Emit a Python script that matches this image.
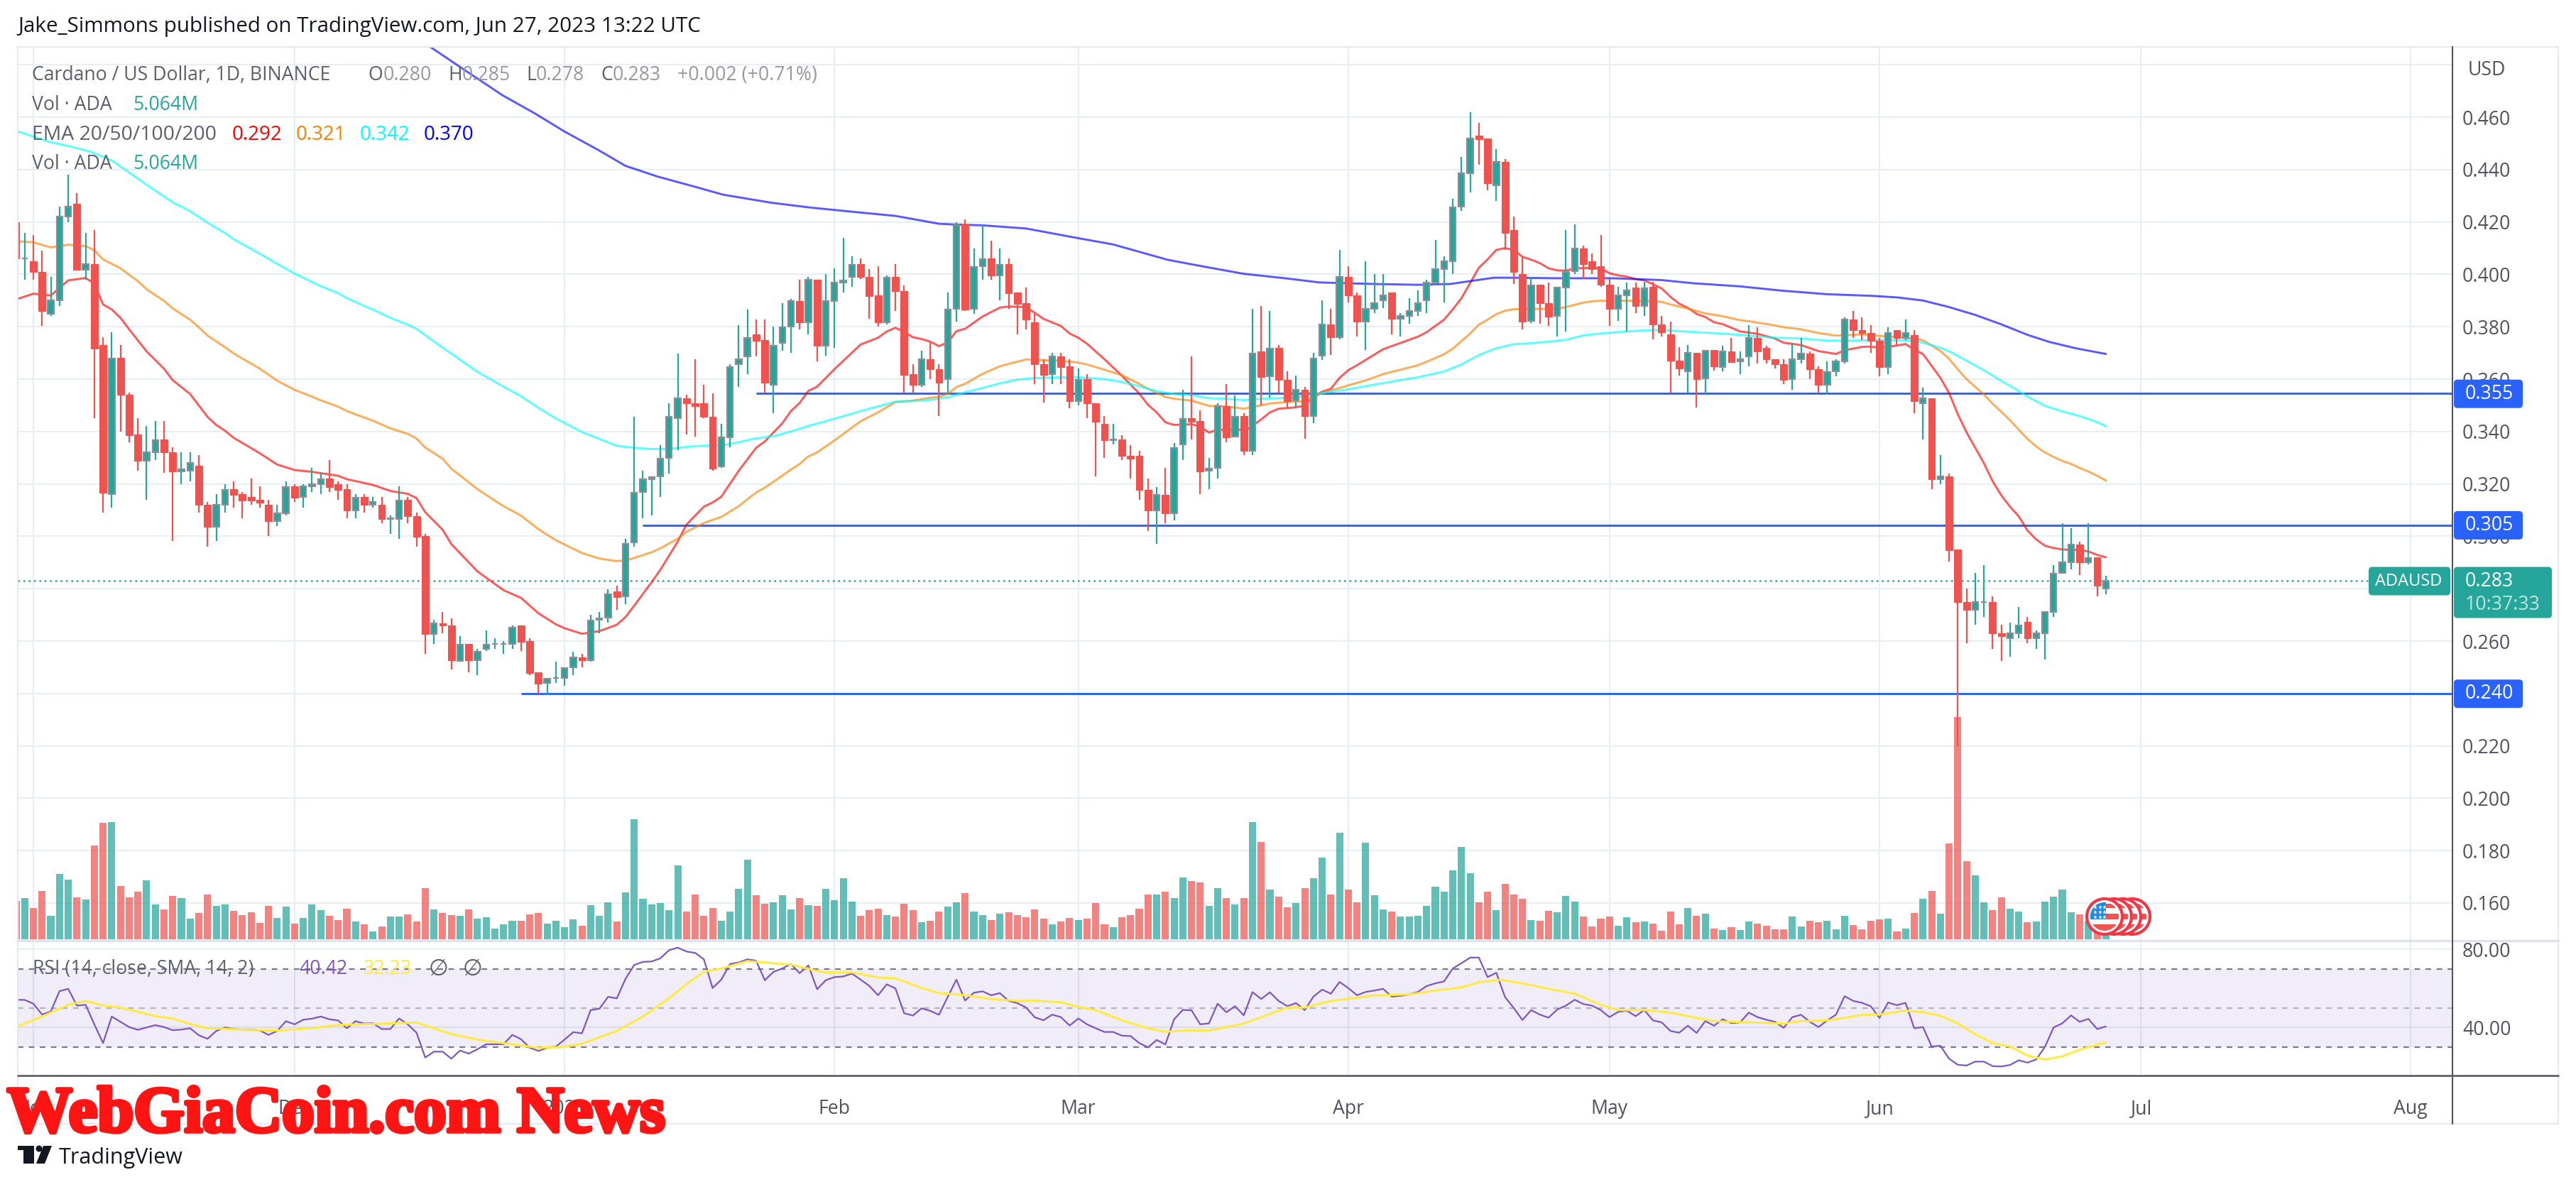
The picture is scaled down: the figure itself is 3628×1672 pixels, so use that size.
import numpy as np, pandas as pd, seaborn as sns
import matplotlib
matplotlib.use("Agg")
import matplotlib.pyplot as plt
from matplotlib.patches import FancyBboxPatch, Circle, Rectangle, Polygon
import matplotlib.patheffects as pe

sns.set_theme(style="white")
plt.rcParams['font.family'] = ['Open Sans', 'DejaVu Sans']

W, H = 3628, 1672
first_day = -2          # Oct 30 2022; day 0 = Nov 1 2022

open_ = [.420,.406,.405,.401,.385,.3901,.4221,.427,.4018,.404,
 .373,.316,.368,.354,.3388,.3289,.332,.337,.332,.3247,
 .325,.3269,.3119,.3037,.312,.318,.316,.315,.3139,.312,
 .3059,.3089,.319,.3149,.319,.3198,.322,.3199,.318,.31,
 .315,.312,.312,.3067,.3067,.3139,.3078,.30,.2627,.2669,
 .2659,.2524,.2589,.2527,.2569,.2588,.2588,.259,.2659,.26,
 .2481,.2439,.2459,.2459,.2501,.2538,.2527,.2681,.269,.2789,
 .277,.2978,.3169,.3219,.3228,.3298,.345,.3528,.3509,.3509,
 .3457,.3268,.3379,.3658,.3688,.377,.3748,.3579,.3739,.38,
 .3897,.3817,.398,.3727,.3899,.3968,.3989,.404,.3989,.392,
 .3818,.3989,.3937,.3618,.3579,.3677,.3639,.3599,.3867,.419,
 .3868,.403,.406,.3997,.4038,.393,.3889,.3818,.3658,.3618,
 .3688,.3648,.3516,.36,.3509,.3428,.3367,.3369,.3308,.3308,
 .3178,.31,.3159,.3089,.335,.345,.3439,.325,.3261,.3498,
 .3381,.3458,.3327,.3707,.361,.3718,.3598,.352,.356,.346,
 .369,.381,.3759,.399,.392,.382,.3869,.39,.3931,.383,
 .384,.3861,.3901,.3968,.402,.405,.4259,.4387,.4529,.4518,
 .434,.4429,.417,.40,.3821,.3961,.3891,.384,.395,.4011,
 .4098,.4049,.4031,.396,.3869,.3921,.395,.388,.3951,.381,
 .3771,.3671,.3631,.3701,.3602,.371,.3647,.3707,.3668,.3688,
 .3758,.3718,.3677,.3658,.36,.3677,.3698,.3639,.3579,.3629,
 .3668,.3828,.3787,.3776,.3747,.3647,.3787,.3758,.3768,.3508,
 .3528,.3219,.3228,.295,.2749,.272,.2749,.275,.2631,.2612,
 .263,.2672,.2612,.263,.2712,.286,.2901,.2969,.29,.2919,
 .280]
high = [.420,.4159,.415,.4091,.399,.4259,.4381,.4311,.4159,.417,
 .3759,.3778,.373,.3548,.3451,.342,.3441,.3441,.334,.332,
 .332,.3309,.3131,.316,.32,.3211,.317,.322,.319,.3139,
 .312,.3209,.32,.32,.3261,.3241,.3291,.3209,.32,.316,
 .316,.315,.315,.3079,.319,.315,.309,.3009,.268,.271,
 .2688,.262,.2589,.2569,.264,.261,.26,.2659,.2659,.261,
 .2481,.2457,.2521,.2497,.2559,.255,.27,.2711,.2799,.2811,
 .2989,.3457,.325,.3227,.3349,.3509,.3698,.354,.3677,.3579,
 .3547,.3429,.3658,.3806,.3866,.3828,.3828,.38,.3889,.3907,
 .3979,.399,.398,.40,.4023,.4138,.4069,.406,.402,.4031,
 .3997,.4038,.3959,.3658,.3708,.374,.3658,.393,.42,.421,
 .4099,.419,.4129,.4099,.4061,.393,.395,.3848,.3676,.3699,
 .3699,.3676,.364,.3618,.3509,.3458,.3428,.3387,.3349,.3327,
 .322,.3189,.3261,.3357,.3559,.3688,.348,.3298,.3509,.358,
 .3539,.3469,.3868,.3878,.3859,.3729,.3629,.3613,.3571,.3701,
 .3902,.3869,.4092,.4032,.3931,.4051,.40,.40,.3931,.3851,
 .3909,.394,.398,.413,.4069,.4289,.4447,.4619,.4579,.4518,
 .4477,.4441,.422,.4067,.399,.3961,.3969,.395,.417,.4191,
 .4109,.408,.4151,.3981,.3951,.3969,.3969,.397,.397,.384,
 .382,.3721,.373,.3701,.3709,.371,.3728,.3758,.3707,.3806,
 .3798,.3728,.3677,.3677,.3739,.3757,.3707,.3648,.3669,.3677,
 .3835,.3859,.3837,.3806,.3757,.3798,.3787,.3828,.3787,.3568,
 .3528,.3309,.3239,.295,.2801,.286,.289,.277,.2661,.2671,
 .273,.2691,.2641,.271,.2889,.3049,.303,.2979,.3049,.2919,
 .2849]
low = [.406,.398,.398,.3802,.384,.3879,.42,.4018,.398,.3451,
 .309,.311,.34,.3359,.3251,.3139,.3291,.3241,.2981,.32,
 .3211,.309,.2961,.2981,.309,.311,.3068,.312,.311,.30,
 .3039,.308,.3131,.311,.317,.316,.317,.3139,.3068,.3068,
 .309,.311,.3051,.3009,.299,.3051,.2961,.255,.2588,.2631,
 .2492,.2522,.2482,.2469,.2561,.2571,.2552,.2571,.2561,.247,
 .24,.2393,.2441,.243,.2469,.25,.2522,.2631,.2671,.2719,
 .2742,.296,.3068,.3079,.3149,.3239,.333,.3388,.3381,.345,
 .325,.326,.334,.3569,.3618,.3688,.3547,.3469,.3708,.37,
 .3789,.3771,.3669,.3689,.3718,.3931,.3951,.3981,.383,.38,
 .3809,.386,.3545,.3545,.357,.36,.346,.3545,.3819,.386,
 .385,.3979,.3979,.3901,.3869,.3771,.379,.3582,.3511,.3582,
 .3582,.3489,.35,.345,.3229,.33,.3351,.329,.322,.3138,
 .3019,.2971,.305,.3062,.329,.3369,.3161,.318,.322,.336,
 .3381,.331,.331,.35,.353,.3548,.3491,.3492,.3373,.3433,
 .3672,.3692,.3752,.3892,.3762,.3711,.3851,.3871,.3772,.3762,
 .3811,.384,.3851,.3959,.3892,.40,.4241,.4312,.4419,.432,
 .4281,.4093,.3962,.3791,.3813,.3811,.3803,.3762,.3781,.40,
 .3982,.4001,.3952,.3803,.3822,.3782,.3851,.384,.3751,.3762,
 .3548,.3613,.3548,.3492,.3542,.3632,.3629,.3666,.3619,.3648,
 .3659,.3659,.3641,.3581,.3559,.3659,.36,.3547,.3541,.3611,
 .3659,.3758,.3748,.3699,.3611,.3619,.3728,.3748,.347,.337,
 .3181,.3199,.2903,.22,.2591,.2662,.2691,.2571,.2524,.2541,
 .2612,.2591,.2571,.253,.2691,.286,.2873,.2851,.2892,.2771,
 .278]
close = [.406,.4061,.4008,.386,.3901,.4221,.4258,.4018,.4039,.3717,
 .3166,.3679,.354,.3387,.3289,.332,.3368,.332,.3247,.3255,
 .328,.3119,.3037,.3119,.3178,.3158,.3137,.3136,.3129,.3058,
 .3089,.3189,.3148,.319,.3198,.3218,.3187,.3178,.3098,.3148,
 .3119,.313,.3065,.3068,.3137,.3078,.2998,.2627,.2669,.2659,
 .2527,.2587,.2526,.2558,.2587,.2589,.2589,.2651,.2597,.2478,
 .2438,.2457,.246,.2496,.2538,.2527,.2679,.2687,.278,.2768,
 .297,.3167,.3219,.3227,.3296,.3457,.3527,.3508,.3497,.3457,
 .3258,.3378,.3646,.3676,.3756,.3746,.3586,.3727,.3799,.3897,
 .3817,.3979,.3727,.3897,.3968,.3978,.4037,.399,.3918,.3818,
 .3988,.3937,.3617,.3579,.3676,.3638,.3586,.3866,.4189,.3865,
 .4029,.4059,.3997,.4037,.3928,.3887,.3828,.3657,.3617,.3687,
 .3647,.3516,.3598,.3508,.3437,.3367,.3369,.3308,.3297,.3177,
 .3099,.3158,.3089,.3337,.3449,.3438,.3247,.3259,.3498,.3378,
 .3457,.3326,.3698,.3609,.3717,.3598,.3516,.3559,.346,.3679,
 .3809,.3759,.3989,.392,.3819,.3869,.389,.392,.383,.384,
 .3861,.389,.3968,.4019,.4049,.4257,.4387,.4518,.4516,.4349,
 .4428,.4157,.4009,.3819,.3959,.389,.3839,.395,.401,.4098,
 .4038,.4019,.396,.3868,.3919,.3938,.388,.3948,.3808,.3779,
 .367,.364,.37,.36,.3709,.3648,.3705,.3666,.3677,.3756,
 .3706,.3675,.3656,.3598,.3675,.3698,.3637,.3578,.3627,.3667,
 .3827,.3786,.3776,.3747,.3646,.3776,.3757,.3775,.3515,.3527,
 .3218,.3228,.2948,.2749,.2718,.2749,.275,.2629,.262,.263,
 .2659,.261,.2629,.271,.2858,.29,.2969,.29,.2918,.2811,
 .283]
volume = [37,39.8,30,46.5,22.5,63,57.5,40.3,38.3,90.5,
 112.3,113,51.3,40.3,45.8,56.8,33.5,28.8,41.8,39.8,
 19.8,25.3,43,32.3,33.5,27.3,23.3,26,15.8,32.3,
 20.5,31.5,15,20.5,33.5,28,22.5,18.5,29.5,17,
 14.3,7.5,12.3,21.8,21.8,24,17,49.3,28.8,25.3,
 23.3,22.5,28.8,19.8,21.3,10.3,14.3,17.8,17.8,24,
 25.3,15,17.8,11.5,19,13,32.8,22.5,35.5,17,
 45.3,115.8,39,33.5,35,28,71.3,26.8,43,22.5,
 30,17.8,26.8,48.5,76.8,42.5,34.3,35.5,42.5,28.8,
 39.8,32.8,32.3,48.5,37.5,58.8,36.3,22.5,28,29.5,
 23.3,21.8,34.3,28,16.3,17.8,26.8,31.5,35.5,44.5,
 26.8,23.3,18.5,24.5,26,23.3,21.3,28.8,19.8,14.3,
 17,20.5,18.5,19.8,35,14.3,11.5,21.3,23.3,29.5,
 43,43,45.8,39.8,59.5,56,54.8,32.3,49.3,39.8,
 33.5,39.8,113,93.8,48,41,30.8,35,49.3,58.8,
 78.8,43,102.8,48,35.5,93.3,42.5,28.8,26.8,21.8,
 21.8,22.5,32.3,50.8,45.8,66.5,89,63.8,35.5,45.8,
 28,53.5,43,39,18.5,17.8,27.3,26,41.8,36.3,
 21.8,12.3,19.8,21.8,13,21.3,16.3,17,15,8.3,
 26.8,14.3,30,22.5,24.5,10.3,8.8,11.5,8.8,17,
 15,13,9.5,9.5,21.8,12.3,17.8,16.3,17.8,9.5,
 22.5,13.8,9.5,17.8,19,19.8,7.5,10.3,25.3,39,
 46.5,24.5,92.5,214.5,75.3,61.5,35.5,28,40.3,29.5,
 26.8,16.3,17,36.3,41,48,26,24,17.8,10.3,
 5.064]
rsi = [54.1,54,52.1,46.5,48.1,58.5,59.7,51.1,51.5,41.5,
 31.9,45.5,42.8,40.1,38.7,39.9,41.1,40.1,38.5,38.8,
 39.5,35.9,34.1,38.1,39.9,39.1,38.8,38.8,38.4,36.1,
 38.1,43.1,41.5,43.9,44.4,45.5,44.1,43.5,39.5,43.1,
 41.9,42.1,39.1,39.1,44.5,41.5,37.2,24.5,27.5,27.5,
 23.9,28.1,26.5,28.8,31.3,31.3,31.3,36.1,33.9,29.5,
 27.9,29.5,30.1,33.7,37.5,36.9,48.8,49.5,55.6,54.8,
 64.8,71.9,73.5,73.7,75.3,79.5,80.8,78.8,78.1,74.8,
 60.1,64.4,72.4,73.2,74.8,74.1,64.1,68.4,70.1,72.4,
 67.7,71.7,59.5,64.1,65.7,66,67.5,64.4,61.2,56.4,
 62,59.9,47.2,46,49.7,48.4,46.4,55.5,64.4,53.7,
 57.7,58.4,56.4,57.5,53.5,52.4,50.1,45.1,43.6,46.5,
 45.2,40.9,44.5,41.5,39.5,37.6,37.6,35.7,35.5,31.9,
 29.7,33.5,31.2,44.1,48.9,48.7,41.5,42,52.1,47.7,
 50.8,46.1,58,54.5,57.9,53.5,50.8,52.4,48.8,55.7,
 59.3,57.2,63.2,60.1,56.4,58.1,58.8,59.7,55.7,56.1,
 56.8,58.1,61.1,62.5,63.5,70.1,72.8,75.7,75.7,65.7,
 67.9,55.5,49.9,43.7,48.8,46.5,44.9,49.1,51.1,54.1,
 51.9,51.1,48.8,45.2,47.9,48.5,45.7,48.8,43.5,42.5,
 38.1,37.2,40.8,37.1,43.2,40.8,44.1,42.1,42.5,47.5,
 45.2,43.9,42.8,39.7,45.2,46.4,42.8,40.1,43.5,46.4,
 55.9,53.5,52.5,50.8,44.8,52.7,51.3,52.5,39.5,40.1,
 30.1,30.5,23.9,20.8,20.4,22.4,22.4,20.1,19.9,20.7,
 23.1,21.9,23.5,29.9,39.9,42,46.1,42.8,44.3,39.1,
 40.42]

ema20_days = [-2,0,2,4,6,7,8,9,10,11,13,15,16,18,20,21,22,23,26,28,30,32,35,36,39,41,43,44,45,47,48,51,54,56,58,60,61,63,65,67,68,69,71,72,74,75,77,78,79,81,83,84,86,87,88,89,90,92,95,97,98,99,100,101,102,103,104,105,106,107,109,111,112,114,115,116,118,119,120,121,123,125,127,128,129,130,131,133,134,135,136,138,139.5,141,142,143,144.6,146,147,148,149,150,151,152,155,157,159,160,162,163,164,165,166,167,168,169,170,171,172,173,174,175,176,177,178,179,180,181,182,183,184,185,186,187,188,189,190,191,192,193,194,196,198,200,201,203,205,207,208,210,211,212,214,215,216,217,219,220,221,222,223,224,225,226,227,228,229,230,231,232,233,234,235,236,237,238]
ema20 = [.3904,.3926,.3919,.3977,.3986,.3965,.3885,.3866,.3834,.379,.3706,.364,.3596,.3543,.3456,.3425,.3403,.3376,.3317,.3274,.3253,.3246,.3231,.3218,.3196,.3173,.3162,.3146,.3092,.3025,.297,.2866,.2794,.2765,.2706,.2664,.2649,.2628,.2638,.2662,.2692,.2735,.2825,.2872,.298,.3045,.3113,.3129,.3151,.325,.3338,.3362,.3431,.3478,.3509,.3555,.3571,.3638,.3732,.3758,.3782,.3796,.378,.376,.3753,.3743,.3726,.374,.3783,.3792,.3839,.3873,.3877,.3875,.3853,.383,.3803,.3774,.3758,.3735,.3676,.3613,.3545,.3502,.3473,.3435,.3425,.3428,.3419,.3396,.3407,.3405,.341,.3446,.3473,.3487,.3491,.3498,.3532,.3552,.3563,.3605,.3634,.3653,.3714,.3738,.3762,.3779,.3827,.3866,.3909,.3967,.4025,.4057,.4093,.41,.4093,.4067,.4056,.4043,.4023,.4015,.4014,.4023,.4024,.4025,.4023,.4004,.3996,.3991,.3982,.3977,.3962,.3946,.3914,.3888,.3872,.3849,.3837,.3817,.381,.3782,.3773,.3755,.3739,.373,.3707,.3696,.371,.3723,.3724,.372,.3728,.3734,.3712,.3696,.3605,.3547,.3466,.3397,.3338,.3279,.321,.3156,.3113,.3076,.3022,.2988,.2964,.2955,.295,.2948,.2948,.2942,.2929,.292]
ema50_days = [-2,0,2,4,6,7,8,9,10,12,13,15,16,18,19,20,22,23,26,28,30,32,33,35,36,39,41,43,44,45,47,48,51,53,54,56,58,60,63,65,67,68.3,71,72,74,75,77,79,81,83,84,86,87,88,89,90,92,95,97,99,101,103,104,105,106,107,109,111,112,114,116,118,120,121,123,125,127,128,130,131,133,135,137,139,141,142,144.6,146,148,149,151,153,155,157,159,160,162,163,164,165,166,167,168,169,170,172,174,175,176,178,179,180,182,185,187,188,190,192,194,196,197,200,201,203,205,207,210,212,214,216,217,218,219,220,221,222,224,225,226,227,228,229,230,231,232,233,234,235,236,237,238]
ema50 = [.4127,.4122,.4103,.4113,.4108,.4092,.4057,.404,.4023,.3974,.3943,.3899,.387,.3827,.3798,.3766,.3722,.3698,.364,.3594,.3559,.3533,.3519,.3495,.3478,.3441,.3412,.3391,.3373,.3339,.3296,.3258,.318,.3136,.3115,.3079,.3027,.2985,.2936,.2915,.2905,.291,.2939,.2954,.2991,.3017,.3051,.3074,.3115,.3167,.3186,.3231,.3255,.3276,.3305,.332,.3366,.3439,.3473,.3512,.3518,.3529,.3532,.3543,.357,.3582,.362,.3649,.3658,.3675,.3672,.367,.3663,.3656,.3636,.3615,.3582,.3563,.3532,.3525,.3518,.3498,.3496,.3487,.35,.3507,.3514,.3515,.3547,.3556,.3576,.3595,.3619,.3636,.3653,.3666,.3695,.3716,.3745,.3774,.3808,.3827,.3848,.3861,.3867,.3868,.3868,.3869,.3875,.3892,.3897,.3899,.3899,.3899,.3895,.3885,.3869,.3851,.384,.3825,.3821,.3805,.3798,.379,.3776,.3766,.3771,.3765,.376,.3755,.3748,.3728,.3707,.3678,.3637,.36,.3541,.3506,.3475,.3443,.3407,.3372,.3343,.332,.3303,.3288,.3276,.3261,.3247,.3231,.3213]
ema100_days = [-2,2,4,6.5,9,13,16,18,20,22,23,26,28,30,33,35,36,39,41,43,44,46.7,51,53,54,56,58,60,63,65,67,69,71,73,75,77,79,81,83,85,87,89,92,95,97,99,101,103,105,107,109,111,113,115,118,120,123,125,127,129,131,133,135,137,139,141,144.6,148,151,155,159,162,164,166,168,170,172,174,176,178,180,183,185,187,190,194,197,200,203,206,209,212,216,218,220,222,224,226,228,229,231,233,235,237,238]
ema100 = [.4548,.4504,.449,.4469,.4435,.4342,.4275,.4241,.4197,.4158,.4134,.4079,.404,.4003,.3955,.3928,.3909,.3865,.3834,.3808,.3792,.3727,.3628,.359,.3571,.3535,.349,.345,.3398,.3372,.3345,.3338,.3333,.3333,.3341,.3346,.3346,.3359,.3374,.3382,.34,.3421,.3449,.3478,.3496,.3514,.3516,.3521,.353,.355,.3566,.3584,.3598,.3604,.3607,.3607,.36,.3589,.3573,.3554,.3543,.3539,.3527,.3525,.352,.3525,.3529,.3547,.3561,.3585,.3607,.3629,.3656,.3692,.3718,.3733,.3737,.3743,.375,.3767,.3774,.3782,.3786,.3788,.3781,.3774,.3766,.3758,.3755,.3747,.3747,.375,.3747,.373,.3707,.367,.3634,.3593,.3555,.3533,.3498,.3477,.3459,.3436,.342]
ema200_days = [45.5,49.2,53.9,57.6,61,64.8,68,71.7,76,79.2,84.8,89.2,94,99,104,105.9,109,114,119,124,130.2,134,139,144,147.7,154,159,162.7,167.7,170,175,181.4,187,190.6,196,200.7,206,211,214,217,220,223,226,229,231.5,234.5,238]
ema200 = [.487,.4787,.4683,.4614,.4545,.4476,.4414,.4373,.4334,.4304,.4273,.4255,.4239,.4223,.4193,.419,.4187,.4175,.4144,.4114,.4056,.4032,.4002,.3984,.3969,.3963,.396,.3963,.3987,.3987,.3985,.3985,.3978,.3966,.3954,.3938,.3924,.3918,.3912,.39,.3875,.3845,.3809,.3769,.3742,.3718,.3696]
rsi_ma_days = [-2,1,4,6,8,10,14,16,18,20,22,24,28,32,35,39,44,48,51,55,58,61,63,67,70,73,75,77,79,82,85,87,90,91,94,97,99,102,104,107,110,113,115,118,120,122,125,128,130,133,135,139,142,144,146,149,152,154,158,161,164,166,168.5,171,174,177,180,182,185,188,191,193,197,201,203,206,208,210,212,215,217,219,221,223,225,227,228,229,231,233,235,238]
rsi_ma = [40.1,45.5,51.5,53.5,51.1,50.1,45.7,44.5,41.7,39.5,39.2,38.7,38.3,39.5,41.2,41.7,42.4,36.5,33.7,31.2,29.5,29.9,31.6,38.1,45.5,54.8,62.1,68.4,70.1,73.9,72.8,72.1,68.8,68.1,68.1,65.5,65.1,60.1,57.5,56.4,54.5,53.5,53.6,52.8,50.4,48.8,43.5,39.5,37.7,38.5,38.3,41.9,46.8,50.1,50.1,53.5,55.1,56.3,56.8,58.8,60.4,63.1,64.3,62.5,59.7,57.2,51.5,48.8,48.8,47.5,44.8,43.1,42.5,41.9,43.1,43.5,44.8,46.4,46.5,48.5,47.7,45.9,41.9,36.5,31.9,30.1,27.9,25.5,23.5,25.1,28.5,32.23]

price_ticks = [.16,.18,.20,.22,.24,.26,.28,.30,.32,.34,.36,.38,.40,.42,.44,.46,.48]
rsi_ticks = [80,40]
month_days = [0,30,61,92,120,151,181,212,242,273]
month_labels = ["Nov","Dec","2023","Feb","Mar","Apr","May","Jun","Jul","Aug"]
level_values = [.3545,.3043,.24]
level_labels = ["0.355","0.305","0.240"]
level_start = [83,70,56]

GREEN, RED, BLUE = "#26a69a", "#ef5350", "#2962ff"
TXT = "#50535e"; GRID = "#e7eef5"; FONT = 19.2

days = np.arange(first_day, first_day + len(close))
o, h, l, c = map(np.array, (open_, high, low, close))
up = c >= o

# pixel helpers
def rect(x0, y0, x1, y1):
    return [x0/W, 1-y1/H, (x1-x0)/W, (y1-y0)/H]
X0, X1, Y0, Y1, Y2, Y3, XR = 25, 3454, 66, 1325, 1515, 1583, 3603
PXD = 12.264
xlim = ((X0-47)/PXD, (X1-47)/PXD)
ylim_price = (.16-(Y1-1272)/3690, .46+(165-Y0)/3690)

fig = plt.figure(figsize=(W/100, H/100), dpi=100, facecolor="white")

ax_bg = fig.add_axes(rect(X0, Y0, X1, Y1), zorder=1)
ax_vol = fig.add_axes(rect(X0, Y0, X1, Y1), zorder=2)
ax = fig.add_axes(rect(X0, Y0, X1, Y1), zorder=3)
ax_rsi = fig.add_axes(rect(X0, Y1+2, X1, Y2), zorder=1)

for a in (ax_bg, ax_vol, ax):
    a.set_xlim(*xlim)
ax_vol.patch.set_alpha(0); ax.patch.set_alpha(0)

# grid
ax_bg.set_ylim(*ylim_price)
ax_bg.set_yticks(price_ticks)
ax_bg.set_xticks(month_days); ax_bg.set_xticklabels([])
ax_bg.grid(True, color=GRID, lw=1.5)
ax_bg.tick_params(left=False, bottom=False, right=False, labelright=True, labelleft=False,
                  labelsize=FONT, labelcolor=TXT, pad=4)
ax_bg.yaxis.set_major_formatter(matplotlib.ticker.FuncFormatter(lambda v, _: "" if v > .47 else f"{v:.3f}"))

# volume
vol_df = pd.DataFrame({"day": days, "vol": volume, "dir": np.where(up, "up", "down")})
sns.barplot(data=vol_df, x="day", y="vol", hue="dir", palette={"up": GREEN, "down": RED},
            native_scale=True, dodge=False, width=0.82, alpha=.72, saturation=1,
            linewidth=0, legend=False, ax=ax_vol)
ax_vol.set_xlim(*xlim)
ax_vol.set_ylim(-2/1.459, (1323-Y0)/1.459)

# price pane
ax.set_ylim(*ylim_price)
ax.hlines(level_values, level_start, xlim[1], color=BLUE, lw=2.1, zorder=2)
ax.axhline(close[-1], color=GREEN, lw=1.8, ls=(0, (1, 2)), zorder=2)
for dd, vv, col in ((ema20_days, ema20, "#ff0000"), (ema50_days, ema50, "#ff8000"),
                    (ema100_days, ema100, "#00ffff"), (ema200_days, ema200, "#0000ff")):
    sns.lineplot(x=dd, y=vv, color=col, alpha=.65, lw=2.1, estimator=None, sort=False, ax=ax, zorder=3)
ax.set_xlim(*xlim); ax.set_ylim(*ylim_price)
wick_cols = [GREEN if u else RED for u in up]
ax.vlines(days, l, h, colors=wick_cols, lw=1.6, zorder=4)
ax.bar(days[~up], (o-c)[~up], bottom=c[~up], width=.8, color=RED, edgecolor=RED, lw=.8, zorder=5)
ax.bar(days[up], (c-o)[up], bottom=o[up], width=.68, color=GREEN, edgecolor="#8a8e98", lw=1.6, zorder=5)

# RSI pane
ax_rsi.set_xlim(*xlim)
ylim_rsi = (40-(Y2-1447)/2.75, 80+(1337-(Y1+2))/2.75)
ax_rsi.set_ylim(*ylim_rsi)
ax_rsi.set_yticks(rsi_ticks)
ax_rsi.set_xticks(month_days); ax_rsi.set_xticklabels(month_labels)
ax_rsi.grid(True, color=GRID, lw=1.5)
ax_rsi.tick_params(left=False, bottom=False, right=False, labelright=True, labelleft=False,
                   labelsize=FONT, labelcolor=TXT)
ax_rsi.tick_params(axis="y", pad=4); ax_rsi.tick_params(axis="x", pad=18)
ax_rsi.yaxis.set_major_formatter(matplotlib.ticker.FormatStrFormatter("%.2f"))
ax_rsi.axhspan(30, 70, color="#7e57c2", alpha=.11, lw=0, zorder=1)
for lev, col in ((70, "#787b86"), (50, "#b2b5be"), (30, "#787b86")):
    ax_rsi.axhline(lev, color=col, lw=1.6, ls=(0, (3.5, 3.5)), zorder=2)
sns.lineplot(x=days, y=rsi, color="#7e57c2", lw=1.6, estimator=None, ax=ax_rsi, zorder=3)
sns.lineplot(x=rsi_ma_days, y=rsi_ma, color="#ffeb3b", lw=2.1, estimator=None, sort=False, ax=ax_rsi, zorder=4)
ax_rsi.set_xlim(*xlim); ax_rsi.set_ylim(*ylim_rsi)

for a in (ax_bg, ax_vol, ax, ax_rsi):
    a.set_xlabel(""); a.set_ylabel("")
    for s in a.spines.values():
        s.set_visible(False)
for a in (ax_vol, ax):
    a.set_xticks([]); a.set_yticks([])

# overlay in pixel coordinates
ov = fig.add_axes([0, 0, 1, 1], zorder=10)
ov.set_xlim(0, W); ov.set_ylim(H, 0); ov.axis("off"); ov.patch.set_alpha(0)

def T(x, y, s, color=TXT, size=FONT, ha="left", **kw):
    return ov.text(x, y, s, color=color, fontsize=size, ha=ha, va="center", **kw)

# frame
ov.plot([X0, XR, XR, X0, X0], [Y0, Y0, Y3, Y3, Y0], color="#e6e9ef", lw=1.6)
ov.plot([X0, XR], [Y1, Y1], color="#e0e3eb", lw=2.4)
ov.plot([X1, X1], [Y0, Y3], color=TXT, lw=1.5)
ov.plot([X0, XR], [Y2, Y2], color=TXT, lw=1.8)

# header and legends
T(25, 38, "Jake_Simmons published on TradingView.com, Jun 27, 2023 13:22 UTC", color="#131722", size=21.3)
LEG = "#5d606b"; VAL = "#9598a1"
T(45, 106, "Cardano / US Dollar, 1D, BINANCE", color=LEG)
for x, s, col in ((518, "O", LEG), (540, "0.280", VAL), (631, "H", LEG), (651, "0.285", VAL),
                  (741, "L", LEG), (755, "0.278", VAL), (846, "C", LEG), (863, "0.283", VAL),
                  (954, "+0.002 (+0.71%)", VAL)):
    T(x, 106, s, color=col)
T(45, 148, "Vol · ADA", color=LEG); T(187, 148, "5.064M", color=GREEN)
T(45, 190, "EMA 20/50/100/200", color=LEG, size=20.4)
for x, s, col in ((327, "0.292", "#ff0000"), (417, "0.321", "#ff8000"), (507, "0.342", "#00ffff"), (597, "0.370", "#0000ff")):
    T(x, 190, s, color=col, size=20)
T(45, 231, "Vol · ADA", color=LEG); T(187, 231, "5.064M", color=GREEN)
T(46, 1365, "RSI (14, close, SMA, 14, 2)", color=LEG)
T(421, 1365, "40.42", color="#7e57c2"); T(512, 1365, "32.23", color="#ffeb3b")
T(604, 1365, "∅", color=LEG, size=23); T(652, 1365, "∅", color=LEG, size=23)
T(3476, 99, "USD", color=TXT)

# level tags
for yv, s in zip(level_values, level_labels):
    yp = 313 + (.42 - yv) * 3690
    ov.add_patch(FancyBboxPatch((3456, yp-20), 97, 40, boxstyle="round,pad=0,rounding_size=5", fc=BLUE, ec="none"))
    T(3472, yp, s, color="white")

# last price tag
yp = 313 + (.42 - close[-1]) * 3690
ov.add_patch(FancyBboxPatch((3336, yp-20), 115, 40, boxstyle="round,pad=0,rounding_size=5", fc=GREEN, ec="none"))
T(3345, yp, "ADAUSD", color="white", size=17)
ov.add_patch(FancyBboxPatch((3456, yp-20), 138, 72, boxstyle="round,pad=0,rounding_size=5", fc=GREEN, ec="none"))
T(3472, yp, "0.283", color="white")
T(3472, yp+33, "10:37:33", color="#bfe5e1")

# earnings markers
for i, cx in enumerate([3003, 2990, 2977, 2964]):
    cy = 1291
    ring = Circle((cx, cy), 25, fc="white", ec="#f23645", lw=3, zorder=20+i)
    ov.add_patch(ring)
    clip = Circle((cx, cy), 20, transform=ov.transData)
    parts = [Rectangle((cx-20, cy-20), 40, 40, fc="white", ec="none"),
             Rectangle((cx-20, cy-18), 40, 6, fc=RED, ec="none"),
             Rectangle((cx-20, cy-4), 40, 8, fc=RED, ec="none"),
             Rectangle((cx-20, cy+11), 40, 10, fc=RED, ec="none"),
             Rectangle((cx-20, cy-20), 22, 24, fc="#1e88e5", ec="none")]
    for p in parts:
        p.set_zorder(20+i+.1)
        ov.add_patch(p); p.set_clip_path(clip)
    if i == 3:
        sx = [cx-13, cx-6, cx, cx-13, cx-6, cx, cx-13, cx-6, cx]
        sy = [cy-13]*3 + [cy-6]*3 + [cy+1]*3
        ov.plot(sx, sy, ls="", marker="*", ms=4.5, color="white", mew=0, zorder=25)

# watermark
T(10, 1572, "WebGiaCoin.com News", color="#ff1414", size=66, family="Liberation Serif", fontweight="bold",
  path_effects=[pe.withStroke(linewidth=4, foreground="#ff1414")], zorder=40)

# TradingView logo
LOGO = "#131722"
ov.add_patch(Rectangle((25, 1614), 23, 6, fc=LOGO, ec="none"))
ov.add_patch(Rectangle((33, 1614), 15, 25, fc=LOGO, ec="none"))
ov.add_patch(Circle((55, 1618), 4.5, fc=LOGO, ec="none"))
ov.add_patch(Polygon([(61, 1614), (73, 1614), (63, 1639), (51, 1639)], fc=LOGO, ec="none"))
T(83, 1631, "TradingView", color=LOGO, size=22)

fig.savefig("out.png", dpi=100, facecolor="white")
